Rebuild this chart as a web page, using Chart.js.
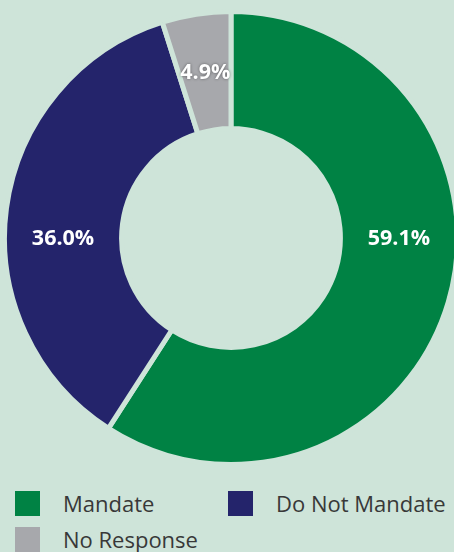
<!DOCTYPE html>
<html>
<head>
<meta charset="utf-8">
<script src="https://cdn.jsdelivr.net/npm/chart.js@4/dist/chart.umd.min.js"></script>
<style>
  html, body { margin: 0; padding: 0; width: 454px; height: 552px; overflow: hidden; background: #cee4d9; }
  #wrap { position: absolute; left: 0; top: 0; width: 460px; height: 470px; }
  #legend { position: absolute; left: 15px; top: 491px; display: grid; grid-template-columns: 213px 213px; row-gap: 11px;
            font-family: "Open Sans", sans-serif; font-size: 22px; color: #383838; }
  .item { display: flex; align-items: center; height: 25px; line-height: 25px; white-space: nowrap; }
  .box { width: 25px; height: 25px; margin-right: 23px; flex: none; }
</style>
</head>
<body>
<div id="wrap"><canvas id="donut"></canvas></div>
<div id="legend"></div>
<script>
const categories = ['Mandate', 'Do Not Mandate', 'No Response'];
const values = [59.1, 36.0, 4.9];
const colors = ['#008244', '#24246b', '#a7a8ac'];
const bgColor = '#cee4d9';

// Etiquetas dentro dos arcos
const arcLabels = {
  id: 'arcLabels',
  afterDatasetsDraw(chart) {
    const ctx = chart.ctx;
    const meta = chart.getDatasetMeta(0);
    meta.data.forEach((arc, i) => {
      const p = arc.getProps(['x', 'y', 'startAngle', 'endAngle', 'innerRadius', 'outerRadius'], true);
      const r = (p.innerRadius + p.outerRadius) / 2;
      let a = (p.startAngle + p.endAngle) / 2;
      // arcos grandes: rótulo na horizontal
      [0, Math.PI, 2 * Math.PI].forEach(h => {
        if (h > p.startAngle && h < p.endAngle) a = h;
      });
      const x = p.x + Math.cos(a) * r;
      const y = p.y + Math.sin(a) * r;
      ctx.save();
      ctx.font = 'bold 21.5px "Open Sans", sans-serif';
      ctx.fillStyle = '#ffffff';
      ctx.textAlign = 'center';
      ctx.textBaseline = 'middle';
      if (i === 2) {
        ctx.shadowColor = 'rgba(0,0,0,0.45)';
        ctx.shadowBlur = 3;
      }
      ctx.fillText(values[i].toFixed(1) + '%', x, y + 1);
      ctx.restore();
    });
  }
};

new Chart(document.getElementById('donut'), {
  type: 'doughnut',
  data: {
    labels: categories,
    datasets: [{
      data: values,
      backgroundColor: colors,
      borderColor: bgColor,
      borderWidth: 5
    }]
  },
  options: {
    responsive: true,
    maintainAspectRatio: false,
    animation: false,
    cutout: '48.3%',
    layout: { padding: { left: 2, top: 9, right: 0, bottom: 3 } },
    plugins: {
      legend: { display: false },
      tooltip: { enabled: false }
    }
  },
  plugins: [arcLabels]
});

// Legenda em HTML
const legend = document.getElementById('legend');
categories.forEach((name, i) => {
  const item = document.createElement('div');
  item.className = 'item';
  item.innerHTML = `<span class="box" style="background:${colors[i]}"></span><span>${name}</span>`;
  legend.appendChild(item);
});
</script>
</body>
</html>
